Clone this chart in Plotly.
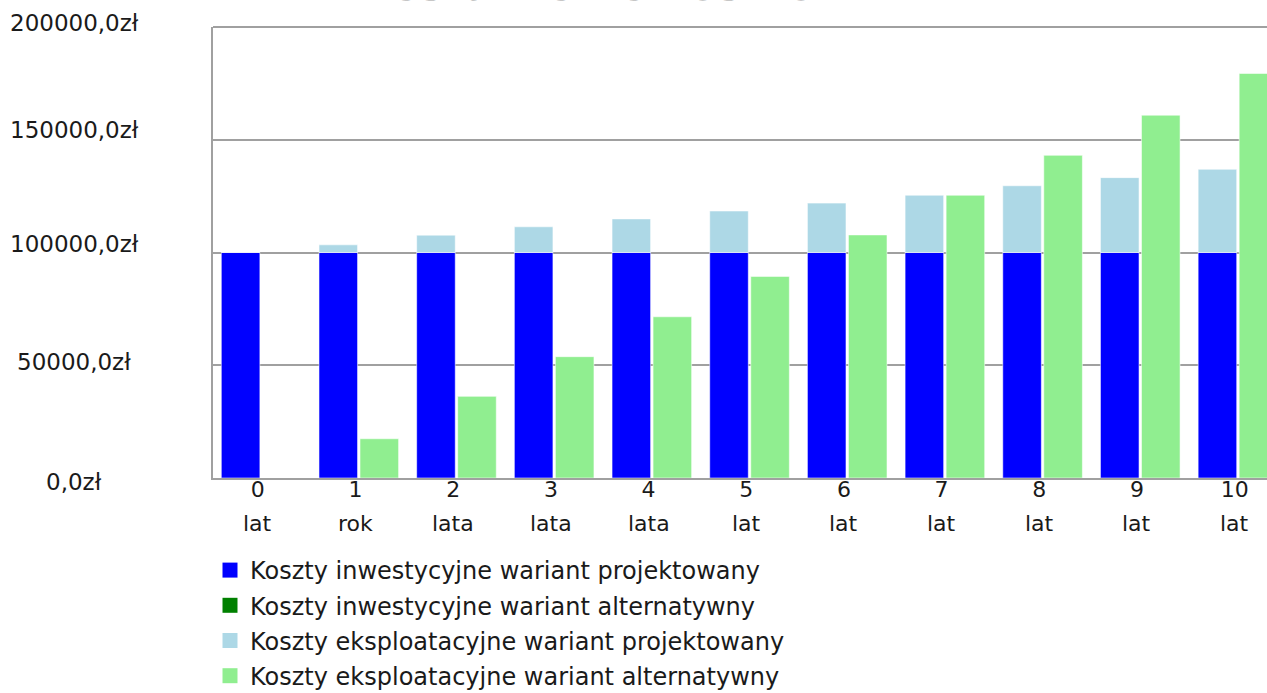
import plotly.graph_objects as go

# ---- data ----
years = ["0", "1", "2", "3", "4", "5", "6", "7", "8", "9", "10"]
year_words = ["lat", "rok", "lata", "lata", "lata", "lat", "lat", "lat", "lat", "lat", "lat"]
inv_proj = [100000, 100000, 100000, 100000, 100000, 100000, 100000, 100000, 100000, 100000, 100000]
inv_alt = [0, 0, 0, 0, 0, 0, 0, 0, 0, 0, 0]
op_proj = [0, 3400, 7700, 11400, 14900, 18400, 21900, 25400, 29600, 33200, 36900]
op_alt = [0, 17400, 36200, 53800, 71500, 89400, 107800, 125400, 143100, 160900, 179400]
y_tick_vals = [0, 50000, 100000, 150000, 200000]
y_tick_labels = ["0,0zł", "50000,0zł", "100000,0zł", "150000,0zł", "200000,0zł"]
series_names = [
    "Koszty inwestycyjne wariant projektowany",
    "Koszty inwestycyjne wariant alternatywny",
    "Koszty eksploatacyjne wariant projektowany",
    "Koszty eksploatacyjne wariant alternatywny",
]
series_colors = ["#0000FF", "#008000", "#ADD8E6", "#90EE90"]
title_text = "Zestawienie kosztów"

# ---- styling ----
FONT = "DejaVu Sans"
W, H = 1267, 693
ML, MT, MB = 213, 27, 215
plot_w = W - ML
plot_h = H - MT - MB
GRID = "#a0a0a0"
TXT = "#1a1a1a"
y_label_shift = [-4, 3, 9, 10, 4]   # pixel nudges of the y labels, as in the original

idx = list(range(len(years)))
edge = dict(width=1, color="rgba(255,255,255,0.55)")

fig = go.Figure()
# projected variant (left bar of each pair)
fig.add_trace(go.Bar(x=idx, y=inv_proj, offset=-0.415, width=0.395,
                     marker=dict(color=series_colors[0], line=edge), showlegend=False))
fig.add_trace(go.Bar(x=idx, y=op_proj, base=inv_proj, offset=-0.415, width=0.395,
                     marker=dict(color=series_colors[2], line=edge), showlegend=False))
# alternative variant (right bar of each pair)
fig.add_trace(go.Bar(x=idx, y=inv_alt, offset=0.005, width=0.395,
                     marker=dict(color=series_colors[1], line=edge), showlegend=False))
fig.add_trace(go.Bar(x=idx, y=op_alt, base=inv_alt, offset=0.005, width=0.395,
                     marker=dict(color=series_colors[3], line=edge), showlegend=False))

# legend entries
for i, (name, col) in enumerate(zip(series_names, series_colors)):
    fig.add_trace(go.Scatter(x=[None], y=[None], mode="markers", name=name,
                             legendgroup=f"g{i}",
                             marker=dict(symbol="square", size=15, color=col)))

annotations = []
for v, t, s in zip(y_tick_vals, y_tick_labels, y_label_shift):
    annotations.append(dict(x=(74 - ML) / plot_w, xref="paper", y=v, yref="y",
                            text=t, showarrow=False, xanchor="center", yanchor="middle",
                            yshift=s, font=dict(family=FONT, size=23, color=TXT)))
# second line of the category labels
for i, w in zip(idx, year_words):
    annotations.append(dict(x=i, xref="x", y=(478 - 509) / plot_h, yref="paper",
                            text=w, showarrow=False, xanchor="center", yanchor="top",
                            xshift=-4, font=dict(family=FONT, size=22, color=TXT)))
annotations.append(dict(x=(607 - ML) / plot_w, xref="paper", y=(478 - 12.5) / plot_h,
                        yref="paper", text="<b>" + title_text + "</b>", showarrow=False,
                        xanchor="center", yanchor="bottom",
                        font=dict(family=FONT, size=42, color="#9a9a9a")))

fig.update_layout(
    width=W, height=H,
    margin=dict(l=ML, r=0, t=MT, b=MB, pad=0, autoexpand=False),
    barmode="overlay",
    plot_bgcolor="white", paper_bgcolor="white",
    font=dict(family=FONT, size=22, color=TXT),
    showlegend=True,
    legend=dict(x=(210 - ML) / plot_w, xanchor="left", y=(478 - 548) / plot_h, yanchor="top",
                font=dict(family=FONT, size=24, color=TXT),
                bgcolor="rgba(0,0,0,0)", itemclick=False,
                traceorder="grouped", tracegroupgap=1),
    annotations=annotations,
    shapes=[dict(type="line", xref="paper", yref="paper", x0=0, x1=1, y0=1, y1=1,
                 line=dict(color=GRID, width=2))],
    xaxis=dict(range=[-0.5, 10.29], tickmode="array", tickvals=idx, ticktext=years,
               showgrid=False, zeroline=False, showline=True, linecolor=GRID,
               linewidth=2, mirror=False, ticks="", ticklabelstandoff=-9,
               ticklabelshift=-4, automargin=False,
               tickfont=dict(family=FONT, size=22, color=TXT)),
    yaxis=dict(range=[0, 200000], tickvals=y_tick_vals, showticklabels=False,
               showgrid=True, gridcolor=GRID, gridwidth=2, zeroline=False,
               showline=True, linecolor=GRID, linewidth=2, ticks="", automargin=False),
)

fig.write_html("out.html", config={"displayModeBar": False},
               post_script="document.body.style.margin='0';document.body.style.overflow='hidden';")
